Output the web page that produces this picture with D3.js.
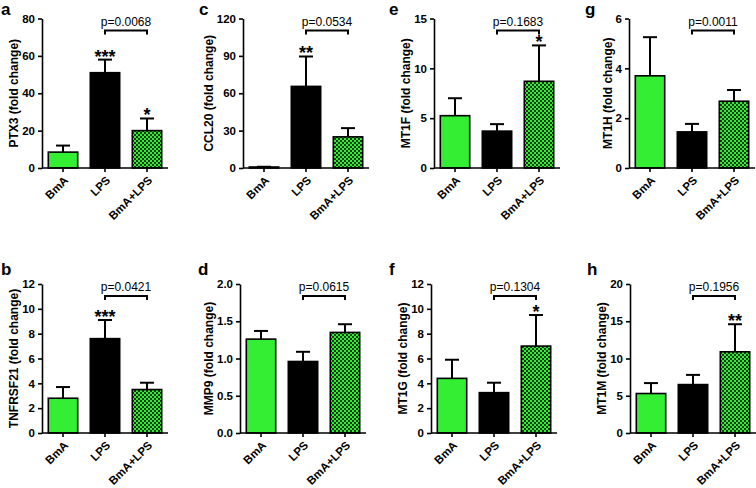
<!DOCTYPE html>
<html>
<head>
<meta charset="utf-8">
<script src="https://cdn.jsdelivr.net/npm/d3@7"></script>
<style>
  html, body { margin: 0; padding: 0; background: #fff; }
  svg { display: block; }
  text { font-family: "Liberation Sans", Arial, Helvetica, sans-serif; }
</style>
</head>
<body>
<svg id="chart" width="756" height="488"></svg>
<script>
// ---------- data ----------
const categories = ["BmA", "LPS", "BmA+LPS"];
const panelLetters = ["a", "c", "e", "g", "b", "d", "f", "h"];
const genes = ["PTX3", "CCL20", "MT1F", "MT1H", "TNFRSF21", "MMP9", "MT1G", "MT1M"];
const meanValues = [
  [8.5, 51, 20],
  [0.8, 65.5, 25],
  [5.25, 3.7, 8.7],
  [3.7, 1.45, 2.68],
  [2.8, 7.6, 3.5],
  [1.26, 0.96, 1.35],
  [4.4, 3.25, 7.0],
  [5.3, 6.5, 10.9]
];
const semValues = [
  [3.5, 7, 6.5],
  [0.2, 24, 7],
  [1.75, 0.7, 3.6],
  [1.55, 0.32, 0.45],
  [0.9, 1.5, 0.55],
  [0.11, 0.13, 0.11],
  [1.5, 0.8, 2.5],
  [1.4, 1.3, 3.7]
];
const yMaxValues = [80, 120, 15, 6, 12, 2, 12, 20];
const yTickSteps = [20, 30, 5, 2, 2, 0.5, 2, 5];
const pValueLabels = ["p=0.0068", "p=0.0534", "p=0.1683", "p=0.0011", "p=0.0421", "p=0.0615", "p=0.1304", "p=0.1956"];
const starLabels = [
  ["", "***", "*"],
  ["", "**", ""],
  ["", "", "*"],
  ["", "", ""],
  ["", "***", ""],
  ["", "", ""],
  ["", "", "*"],
  ["", "", "**"]
];

// ---------- layout ----------
const axisXs = [42, 243, 434, 629, 42, 240, 431, 630];
const plotTops = [18.5, 18.5, 18.5, 18.5, 284, 284, 284, 284];
const plotBottoms = [168, 168, 168, 168, 433, 433, 433, 433];
const letterXs = [1, 199, 389, 585, 1, 198, 389, 587];
const letterYs = [15, 15, 15, 15, 275, 275, 275, 275];
const plotWidth = 126;
const green = "#33ee33";

const svg = d3.select("#chart");

// checker pattern
const defs = svg.append("defs");
const pat = defs.append("pattern")
  .attr("id", "checker")
  .attr("patternUnits", "userSpaceOnUse")
  .attr("width", 4).attr("height", 4);
pat.append("rect").attr("width", 4).attr("height", 4).attr("fill", green);
pat.append("rect").attr("x", 0).attr("y", 0).attr("width", 2).attr("height", 2).attr("fill", "#123c12");
pat.append("rect").attr("x", 2).attr("y", 2).attr("width", 2).attr("height", 2).attr("fill", "#123c12");

const fills = [green, "#000000", "url(#checker)"];

genes.forEach((gene, i) => {
  const ax = axisXs[i];
  const top = plotTops[i];
  const bottom = plotBottoms[i];
  const g = svg.append("g");

  const x = d3.scaleBand().domain(categories)
    .range([ax, ax + plotWidth]).paddingInner(0.3).paddingOuter(0.15);
  const y = d3.scaleLinear().domain([0, yMaxValues[i]]).range([bottom, top]);

  const rows = categories.map((c, j) => ({
    cat: c, mean: meanValues[i][j], sem: semValues[i][j], star: starLabels[i][j], fill: fills[j]
  }));

  // error bars (upper only)
  const eb = g.append("g");
  rows.forEach(r => {
    const cx = x(r.cat) + x.bandwidth() / 2;
    const yt = y(r.mean + r.sem);
    eb.append("line").attr("x1", cx).attr("x2", cx)
      .attr("y1", y(r.mean)).attr("y2", yt)
      .attr("stroke", "#000").attr("stroke-width", 2);
    eb.append("line").attr("x1", cx - 7).attr("x2", cx + 7)
      .attr("y1", yt).attr("y2", yt)
      .attr("stroke", "#000").attr("stroke-width", 2);
  });

  // bars
  g.append("g").selectAll("rect").data(rows).join("rect")
    .attr("x", d => x(d.cat))
    .attr("width", x.bandwidth())
    .attr("y", d => y(d.mean))
    .attr("height", d => y(0) - y(d.mean))
    .attr("fill", d => d.fill)
    .attr("stroke", "#000")
    .attr("stroke-width", 1.6);

  // stars
  g.append("g").selectAll("text").data(rows.filter(r => r.star)).join("text")
    .attr("x", d => x(d.cat) + x.bandwidth() / 2)
    .attr("y", d => y(d.mean + d.sem) + 3)
    .attr("text-anchor", "middle")
    .attr("font-size", 18).attr("font-weight", "bold")
    .text(d => d.star);

  // y axis
  const ticks = d3.range(0, yMaxValues[i] + yTickSteps[i] / 2, yTickSteps[i]);
  const fmt = yTickSteps[i] < 1 ? d3.format(".1f") : d3.format("d");
  const yAxis = g.append("g")
    .attr("transform", `translate(${ax},0)`)
    .call(d3.axisLeft(y).tickValues(ticks).tickFormat(fmt).tickSize(4).tickSizeOuter(0).tickPadding(3));
  yAxis.selectAll("path,line").attr("stroke", "#000").attr("stroke-width", 1.6);
  yAxis.selectAll("text").attr("font-size", 11.5).attr("font-weight", "bold").attr("fill", "#000")
    .style("font-family", '"Liberation Sans", Arial, sans-serif');

  let maxW = 0;
  yAxis.selectAll("text").each(function () { maxW = Math.max(maxW, this.getComputedTextLength()); });

  // y label
  g.append("text")
    .attr("transform", `translate(${ax - 7 - maxW - 4},${(top + bottom) / 2}) rotate(-90)`)
    .attr("text-anchor", "middle")
    .attr("font-size", 12).attr("font-weight", "bold")
    .text(gene + " (fold change)");

  // x axis
  const xAxis = g.append("g")
    .attr("transform", `translate(0,${bottom})`)
    .call(d3.axisBottom(x).tickSize(4).tickSizeOuter(0));
  xAxis.select("path").attr("d", `M${ax},0H${ax + plotWidth}`);
  xAxis.selectAll("path,line").attr("stroke", "#000").attr("stroke-width", 1.6);
  xAxis.selectAll("text")
    .attr("x", null).attr("y", null).attr("dy", null)
    .attr("text-anchor", "end")
    .attr("transform", "translate(6,13) rotate(-45)")
    .attr("font-size", 11.5).attr("font-weight", "bold").attr("fill", "#000")
    .style("font-family", '"Liberation Sans", Arial, sans-serif');

  // p-value bracket between LPS and BmA+LPS
  const x1 = x(categories[1]) + x.bandwidth() / 2;
  const x2 = x(categories[2]) + x.bandwidth() / 2;
  const by = top + 12;
  g.append("path")
    .attr("d", `M${x1},${by + 4}V${by}H${x2}V${by + 4}`)
    .attr("fill", "none").attr("stroke", "#000").attr("stroke-width", 2);
  g.append("text")
    .attr("x", (x1 + x2) / 2).attr("y", by - 5)
    .attr("text-anchor", "middle")
    .attr("font-size", 12)
    .text(pValueLabels[i]);

  // panel letter
  svg.append("text")
    .attr("x", letterXs[i]).attr("y", letterYs[i])
    .attr("font-size", 17).attr("font-weight", "bold")
    .text(panelLetters[i]);
});
</script>
</body>
</html>
